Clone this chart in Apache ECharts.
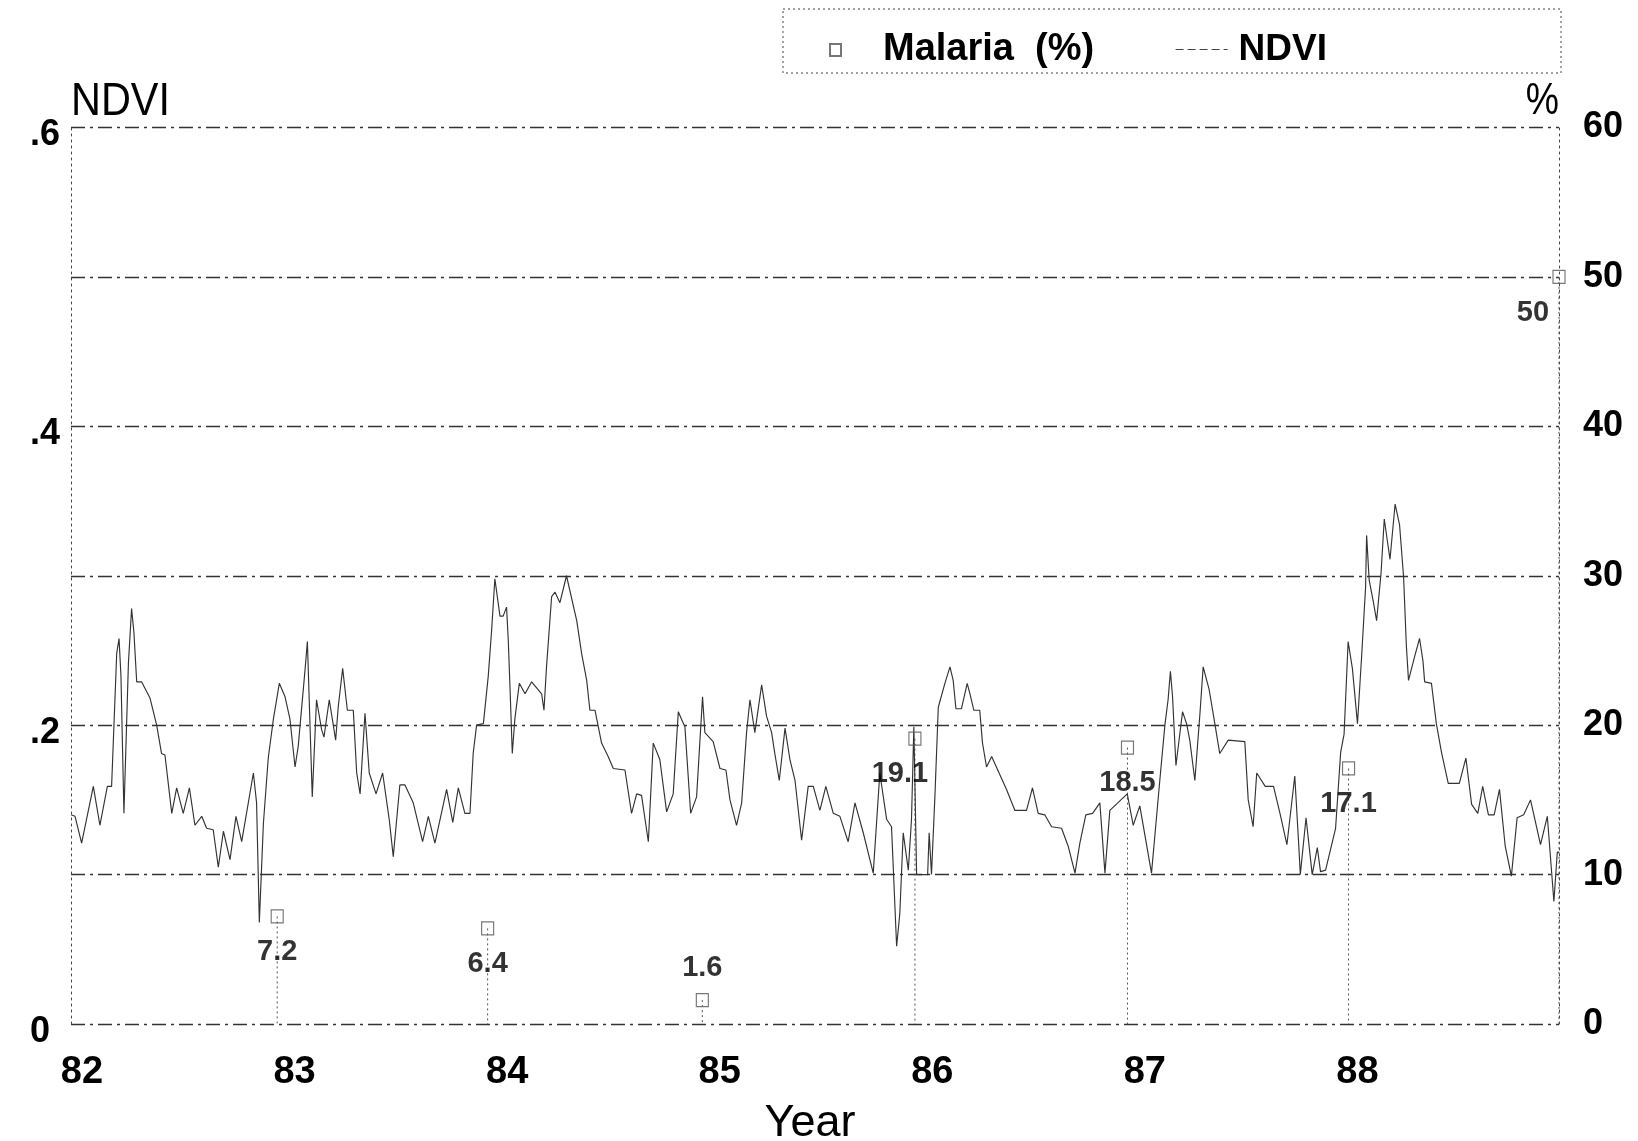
<!DOCTYPE html>
<html>
<head>
<meta charset="utf-8">
<title>Malaria (%) and NDVI, 1982–1988</title>
<script src="https://cdn.jsdelivr.net/npm/echarts/dist/echarts.min.js"></script>
<style>
  html, body { margin: 0; padding: 0; background: #fff; }
  #chart { width: 1638px; height: 1141px; }
</style>
</head>
<body>
<div id="chart"></div>
<script>
// NDVI time series: decimal year and index value at each vertex of the trace
const ndviYear = [
  82.000, 82.019, 82.050, 82.105, 82.136, 82.171, 82.191, 82.215, 82.226, 82.235,
  82.249, 82.270, 82.285, 82.296, 82.309, 82.332, 82.372, 82.403, 82.426, 82.442,
  82.474, 82.497, 82.528, 82.557, 82.583, 82.615, 82.638, 82.669, 82.693, 82.717,
  82.748, 82.776, 82.803, 82.858, 82.873, 82.886, 82.905, 82.928, 82.952, 82.980,
  83.007, 83.030, 83.054, 83.069, 83.101, 83.112, 83.135, 83.155, 83.179, 83.190,
  83.215, 83.245, 83.257, 83.278, 83.300, 83.328, 83.344, 83.360, 83.383, 83.403,
  83.435, 83.466, 83.497, 83.516, 83.547, 83.571, 83.610, 83.654, 83.681, 83.712,
  83.767, 83.796, 83.822, 83.853, 83.877, 83.892, 83.908, 83.940, 83.963, 83.979,
  83.994, 84.018, 84.033, 84.049, 84.057, 84.065, 84.076, 84.088, 84.109, 84.136,
  84.167, 84.214, 84.225, 84.237, 84.261, 84.277, 84.300, 84.331, 84.379, 84.402,
  84.426, 84.441, 84.465, 84.496, 84.527, 84.551, 84.606, 84.637, 84.661, 84.684,
  84.716, 84.739, 84.770, 84.802, 84.833, 84.857, 84.872, 84.888, 84.915, 84.943,
  84.971, 84.982, 85.021, 85.053, 85.081, 85.100, 85.131, 85.155, 85.178, 85.194,
  85.217, 85.249, 85.272, 85.296, 85.311, 85.332, 85.359, 85.382, 85.406, 85.437,
  85.468, 85.492, 85.523, 85.551, 85.586, 85.617, 85.656, 85.688, 85.727, 85.774,
  85.805, 85.837, 85.860, 85.884, 85.899, 85.915, 85.939, 85.954, 85.965, 85.978,
  86.030, 86.037, 86.048, 86.064, 86.080, 86.111, 86.135, 86.150, 86.163, 86.189,
  86.216, 86.229, 86.247, 86.275, 86.288, 86.307, 86.331, 86.401, 86.440, 86.495,
  86.523, 86.550, 86.581, 86.613, 86.660, 86.691, 86.723, 86.746, 86.774, 86.806,
  86.840, 86.864, 86.887, 86.969, 86.997, 87.028, 87.083, 87.107, 87.122, 87.146,
  87.161, 87.172, 87.182, 87.198, 87.229, 87.248, 87.263, 87.287, 87.311, 87.326,
  87.354, 87.381, 87.404, 87.444, 87.522, 87.538, 87.561, 87.578, 87.618, 87.657,
  87.689, 87.720, 87.757, 87.776, 87.783, 87.810, 87.839, 87.863, 87.878, 87.902,
  87.949, 87.973, 87.989, 88.008, 88.028, 88.052, 88.071, 88.090, 88.095, 88.107,
  88.126, 88.142, 88.163, 88.178, 88.205, 88.229, 88.250, 88.269, 88.282, 88.292,
  88.321, 88.344, 88.360, 88.368, 88.400, 88.423, 88.447, 88.479, 88.531, 88.562,
  88.589, 88.618, 88.641, 88.668, 88.695, 88.720, 88.747, 88.776, 88.803, 88.834,
  88.866, 88.913, 88.945, 88.976, 88.992, 89.000
];
const ndviValue = [
  0.140, 0.139, 0.121, 0.159, 0.133, 0.159, 0.159, 0.248, 0.258, 0.233,
  0.141, 0.241, 0.278, 0.262, 0.229, 0.229, 0.218, 0.200, 0.181, 0.180,
  0.141, 0.158, 0.141, 0.158, 0.133, 0.139, 0.131, 0.130, 0.105, 0.129,
  0.110, 0.139, 0.122, 0.168, 0.148, 0.068, 0.134, 0.178, 0.204, 0.228,
  0.219, 0.204, 0.172, 0.186, 0.237, 0.256, 0.152, 0.217, 0.197, 0.192,
  0.217, 0.190, 0.212, 0.238, 0.210, 0.210, 0.168, 0.154, 0.208, 0.168,
  0.154, 0.168, 0.137, 0.112, 0.160, 0.160, 0.148, 0.122, 0.139, 0.121,
  0.157, 0.135, 0.158, 0.141, 0.141, 0.181, 0.200, 0.201, 0.233, 0.264,
  0.298, 0.273, 0.273, 0.279, 0.257, 0.226, 0.181, 0.204, 0.228, 0.221,
  0.229, 0.221, 0.210, 0.239, 0.286, 0.289, 0.282, 0.300, 0.270, 0.248,
  0.230, 0.210, 0.210, 0.188, 0.179, 0.171, 0.170, 0.141, 0.154, 0.153,
  0.122, 0.188, 0.177, 0.142, 0.154, 0.209, 0.204, 0.199, 0.141, 0.152,
  0.219, 0.195, 0.189, 0.171, 0.170, 0.150, 0.133, 0.148, 0.195, 0.217,
  0.195, 0.227, 0.206, 0.195, 0.181, 0.163, 0.198, 0.177, 0.163, 0.123,
  0.159, 0.159, 0.143, 0.159, 0.141, 0.139, 0.122, 0.148, 0.128, 0.101,
  0.168, 0.137, 0.132, 0.052, 0.074, 0.128, 0.103, 0.137, 0.199, 0.100,
  0.100, 0.128, 0.100, 0.152, 0.212, 0.228, 0.239, 0.230, 0.211, 0.211,
  0.228, 0.221, 0.210, 0.210, 0.188, 0.172, 0.179, 0.157, 0.143, 0.143,
  0.158, 0.141, 0.140, 0.132, 0.131, 0.119, 0.101, 0.121, 0.140, 0.141,
  0.148, 0.101, 0.143, 0.154, 0.133, 0.146, 0.101, 0.139, 0.163, 0.200,
  0.217, 0.236, 0.219, 0.173, 0.209, 0.201, 0.190, 0.163, 0.208, 0.239,
  0.224, 0.201, 0.181, 0.190, 0.189, 0.150, 0.132, 0.168, 0.159, 0.159,
  0.140, 0.120, 0.166, 0.119, 0.100, 0.138, 0.100, 0.118, 0.102, 0.103,
  0.131, 0.182, 0.194, 0.256, 0.238, 0.201, 0.245, 0.292, 0.327, 0.297,
  0.283, 0.270, 0.302, 0.338, 0.311, 0.348, 0.334, 0.299, 0.253, 0.230,
  0.246, 0.258, 0.243, 0.229, 0.228, 0.201, 0.182, 0.161, 0.161, 0.178,
  0.147, 0.141, 0.159, 0.140, 0.140, 0.157, 0.119, 0.099, 0.138, 0.140,
  0.150, 0.120, 0.139, 0.082, 0.115, 0.115
];

// Malaria prevalence (%) recorded at each year end
const malariaYear = [82.97, 83.96, 84.97, 85.97, 86.97, 88.01, 89.00];
const malariaPct  = [7.2, 6.4, 1.6, 19.1, 18.5, 17.1, 50];

// Tick labels
const yearTicks = [82, 83, 84, 85, 86, 87, 88];
const ndviTicks = ['0', '.2', '.4', '.6'];
const pctTicks  = ['0', '10', '20', '30', '40', '50', '60'];

const FONT = '"Liberation Sans", Arial, Helvetica, sans-serif';
const INK = '#000';
const LINE_INK = '#333';

// Label placement tweaks for individual malaria values
const labelTweaks = {
  2: { position: 'top', distance: 10 },
  3: { offset: [-15, 0] },
  6: { offset: [-26, 0] }
};

const chart = echarts.init(document.getElementById('chart'), null, { renderer: 'canvas' });

const option = {
  animation: false,
  backgroundColor: '#fff',
  textStyle: { fontFamily: FONT },
  grid: { left: 71, right: 79, top: 127.5, bottom: 117, containLabel: false, outerBoundsMode: 'none' },
  legend: [
    {
      data: ['Malaria (%)'],
      left: 824, top: 26,
      itemWidth: 11, itemHeight: 12,
      selectedMode: false,
      formatter: name => name.replace(' ', '  '),
      textStyle: { fontSize: 38, fontWeight: 'bold', color: INK, fontFamily: FONT, padding: [0, 0, 0, 37] }
    },
    {
      data: ['NDVI'],
      left: 1170, top: 26,
      itemWidth: 52, itemHeight: 14,
      selectedMode: false,
      itemStyle: { opacity: 0 },
      lineStyle: { type: [8, 4], width: 1.2, color: '#444' },
      textStyle: { fontSize: 37, fontWeight: 'bold', color: INK, fontFamily: FONT, padding: [0, 0, 0, 6] }
    }
  ],
  xAxis: {
    type: 'value',
    min: 82, max: 89, interval: 1,
    axisLine: { show: false },
    axisTick: { show: false },
    splitLine: { show: false },
    axisLabel: {
      margin: 30,
      fontSize: 38, fontWeight: 'bold', color: INK, fontFamily: FONT,
      padding: [0, 0, 0, 22],
      formatter: v => {
        const k = yearTicks.indexOf(Math.round(v));
        return k >= 0 ? String(yearTicks[k]) : '';
      }
    }
  },
  yAxis: [
    {
      type: 'value',
      min: 0, max: 0.6, interval: 0.2,
      position: 'left',
      axisLine: { show: true, lineStyle: { color: '#444', width: 1, type: [2, 4] } },
      axisTick: { show: false },
      splitLine: { show: false },
      axisLabel: {
        align: 'left', margin: 41,
        verticalAlign: 'top', lineHeight: 16,
        fontSize: 36, fontWeight: 'bold', color: INK, fontFamily: FONT,
        formatter: v => ndviTicks[Math.round(v / 0.2)] || ''
      }
    },
    {
      type: 'value',
      min: 0, max: 60, interval: 10,
      position: 'right',
      axisLine: { show: true, lineStyle: { color: '#444', width: 1, type: [2, 4] } },
      axisTick: { show: false },
      splitLine: {
        show: true, showMinLine: true, showMaxLine: true,
        lineStyle: { color: '#333', width: 1.3, type: [14, 5, 3, 5] }
      },
      axisLabel: {
        margin: 24,
        fontSize: 36, fontWeight: 'bold', color: INK, fontFamily: FONT,
        formatter: v => pctTicks[Math.round(v / 10)] || ''
      }
    }
  ],
  series: [
    {
      name: 'NDVI',
      type: 'line',
      xAxisIndex: 0, yAxisIndex: 0,
      data: ndviYear.map((t, i) => [t, ndviValue[i]]),
      symbol: 'none', showSymbol: false,
      itemStyle: { color: LINE_INK },
      lineStyle: { color: LINE_INK, width: 1.15 },
      z: 3
    },
    {
      name: 'Malaria drop lines',
      type: 'custom',
      xAxisIndex: 0, yAxisIndex: 1,
      data: malariaYear.map((t, i) => [t, malariaPct[i]]),
      renderItem: (params, api) => {
        const top = api.coord([api.value(0), api.value(1)]);
        const base = api.coord([api.value(0), 0]);
        return {
          type: 'line',
          shape: { x1: top[0], y1: top[1], x2: base[0], y2: base[1] },
          style: { stroke: '#555', lineWidth: 1, lineDash: [2, 3] }
        };
      },
      silent: true,
      z: 2
    },
    {
      name: 'Malaria (%)',
      type: 'scatter',
      xAxisIndex: 0, yAxisIndex: 1,
      symbol: 'rect',
      symbolSize: [12, 13],
      itemStyle: { color: 'rgba(255,255,255,0)', borderColor: '#555', borderWidth: 1.2 },
      label: {
        show: true, position: 'bottom', distance: 14,
        fontSize: 29, fontWeight: 'bold', color: INK, fontFamily: FONT,
        formatter: p => String(p.value[1])
      },
      data: malariaYear.map((t, i) => {
        const item = { value: [t, malariaPct[i]] };
        if (labelTweaks[i]) item.label = labelTweaks[i];
        return item;
      }),
      z: 4
    }
  ],
  graphic: [
    {
      type: 'rect',
      shape: { x: 783, y: 9, width: 778, height: 64 },
      style: { fill: 'none', stroke: '#444', lineWidth: 1, lineDash: [2, 3] },
      silent: true
    },
    {
      type: 'text', x: 71, y: 102, scaleX: 0.9,
      style: { text: 'NDVI', font: '46px ' + FONT, fill: INK, align: 'left', verticalAlign: 'middle' }
    },
    {
      type: 'text', x: 1559, y: 102, scaleX: 0.85,
      style: { text: '%', font: '44px ' + FONT, fill: INK, align: 'right', verticalAlign: 'middle' }
    },
    {
      type: 'text', x: 810, y: 1124,
      style: { text: 'Year', font: '45px ' + FONT, fill: INK, align: 'center', verticalAlign: 'middle' }
    }
  ]
};

chart.setOption(option);
</script>
</body>
</html>
